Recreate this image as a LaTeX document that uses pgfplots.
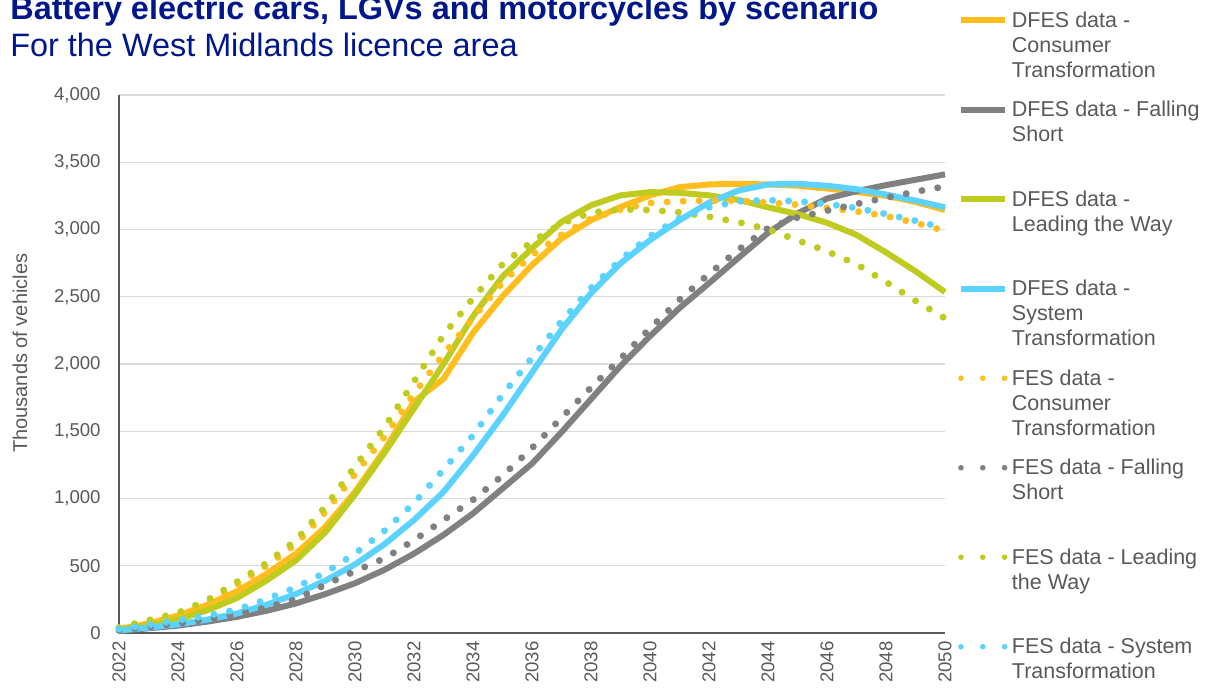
\documentclass[border=0pt]{standalone}
\usepackage{pgfplots}
\usepackage{pgfplotstable}
\pgfplotsset{compat=1.18}
\usepackage{fontspec}
\setmainfont{Liberation Sans}

\definecolor{ctorange}{HTML}{FFBE1E}
\definecolor{fsgray}{HTML}{808080}
\definecolor{lwgreen}{HTML}{BFCB1F}
\definecolor{stblue}{HTML}{5CD2FF}
\definecolor{titleblue}{HTML}{00178C}
\definecolor{txtgray}{HTML}{595959}
\definecolor{gridgray}{HTML}{D9D9D9}

% thousands of vehicles; d = DFES (solid), f = FES (dotted)
% ct consumer transformation, fs falling short, lw leading the way, st system transformation
\pgfplotstableread{
year dct  dfs  dlw  dst  fct  ffs  flw  fst
2022 30   15   25   20   35   20   40   30
2023 70   35   55   40   85   45   95   60
2024 130  55   100  65   140  70   150  95
2025 210  85   170  100  230  100  245  130
2026 310  120  260  145  360  140  380  175
2027 440  165  390  210  500  190  520  250
2028 590  220  540  290  660  250  690  340
2029 790  290  750  390  900  360  940  450
2030 1050 370  1030 510  1180 460  1240 590
2031 1360 470  1340 660  1460 555  1530 760
2032 1720 590  1670 840  1780 690  1870 966
2033 1890 729  2000 1049 2071 840  2214 1215
2034 2232 889  2355 1320 2342 990  2490 1470
2035 2503 1074 2650 1616 2606 1170 2741 1771
2036 2736 1259 2860 1936 2810 1375 2910 2047
2037 2933 1493 3057 2256 2960 1600 3045 2318
2038 3069 1739 3180 2527 3081 1825 3125 2565
2039 3167 1985 3254 2749 3148 2040 3150 2775
2040 3254 2207 3278 2921 3197 2265 3145 2950
2041 3315 2416 3273 3069 3210 2478 3128 3085
2042 3335 2601 3254 3200 3215 2670 3095 3165
2043 3340 2790 3220 3290 3215 2850 3054 3210
2044 3335 2975 3165 3335 3200 3010 3002 3218
2045 3325 3120 3115 3340 3185 3090 2920 3210
2046 3305 3230 3050 3325 3160 3140 2838 3190
2047 3280 3285 2960 3300 3135 3190 2742 3160
2048 3250 3330 2830 3260 3100 3236 2610 3115
2049 3205 3370 2690 3215 3050 3281 2470 3065
2050 3145 3410 2535 3165 2990 3320 2340 3010
}\vehicles

\newcommand{\lent}[3]{\parbox[t]{100pt}{\strut#1\\\strut#2\\\strut#3}}

\pgfplotsset{
  dfes/.style={line width=3pt, line join=round, no markers},
  fes/.style={line width=3.5pt, line cap=round, dash pattern=on 0pt off 8pt, no markers,
    legend image code/.code={\draw[##1, line width=2.8pt, dash pattern=on 0pt off 10.9pt] (0pt,0pt) -- (22pt,0pt);}},
}

\begin{document}
\begin{tikzpicture}
\begin{axis}[
  at={(59.5pt,27pt)}, anchor=south west,
  scale only axis, width=413pt, height=269pt,
  xmin=2022, xmax=2050, ymin=0, ymax=4000,
  xtick={2022,2024,...,2050}, ytick={0,500,...,4000},
  axis x line=bottom, axis y line=left,
  axis line style={-, draw=txtgray, line width=1.1pt},
  major tick length=0pt,
  ymajorgrids, major grid style={draw=gridgray, line width=0.6pt},
  scaled y ticks=false,
  clip=false,
  tick label style={font=\fontsize{9.3}{11}\selectfont, text=txtgray, inner sep=0pt},
  /pgf/number format/assume math mode=true,
  y tick label style={/pgf/number format/1000 sep={,}, xshift=-9pt},
  x tick label style={/pgf/number format/1000 sep={}, rotate=90, anchor=east, xshift=-4pt},
  ylabel={Thousands of vehicles},
  ylabel style={at={(axis description cs:-0.12,0.52)}, anchor=center,
    font=\fontsize{10}{12}\selectfont, text=txtgray},
  legend image code/.code={\draw[#1] (0pt,0pt) -- (22pt,0pt);},
  legend style={draw=none, fill=none, at={(axis description cs:1.0157,1.1655)},
    anchor=north west, inner sep=0pt, outer sep=0pt,
    font=\fontsize{10.75}{12.5}\selectfont, text=txtgray,
    row sep=30.5pt, column sep=0pt},
  legend cell align=left,
]
\addplot[dfes, color=ctorange] table[x=year, y=dct] {\vehicles};
\addlegendentry{\lent{DFES data -}{Consumer}{Transformation}}
\addplot[dfes, color=fsgray] table[x=year, y=dfs] {\vehicles};
\addlegendentry{\lent{DFES data - Falling}{Short}{}}
\addplot[dfes, color=lwgreen] table[x=year, y=dlw] {\vehicles};
\addlegendentry{\lent{DFES data -}{Leading the Way}{}}
\addplot[dfes, color=stblue] table[x=year, y=dst] {\vehicles};
\addlegendentry{\lent{DFES data -}{System}{Transformation}}
\addplot[fes, color=ctorange] table[x=year, y=fct] {\vehicles};
\addlegendentry{\lent{FES data -}{Consumer}{Transformation}}
\addplot[fes, color=fsgray] table[x=year, y=ffs] {\vehicles};
\addlegendentry{\lent{FES data - Falling}{Short}{}}
\addplot[fes, color=lwgreen] table[x=year, y=flw] {\vehicles};
\addlegendentry{\lent{FES data - Leading}{the Way}{}}
\addplot[fes, color=stblue] table[x=year, y=fst] {\vehicles};
\addlegendentry{\lent{FES data - System}{Transformation}{}}
\end{axis}
\node[anchor=base west, inner sep=0pt, text=titleblue, font=\bfseries\fontsize{16.2}{19}\selectfont]
  at (5pt,333.5pt) {Battery electric cars, LGVs and motorcycles by scenario};
\node[anchor=base west, inner sep=0pt, text=titleblue, font=\fontsize{16.2}{19}\selectfont]
  at (5pt,315pt) {For the West Midlands licence area};
\pgfresetboundingbox
\path[use as bounding box] (0pt,0pt) rectangle (605pt,343.5pt);
\end{tikzpicture}
\end{document}
